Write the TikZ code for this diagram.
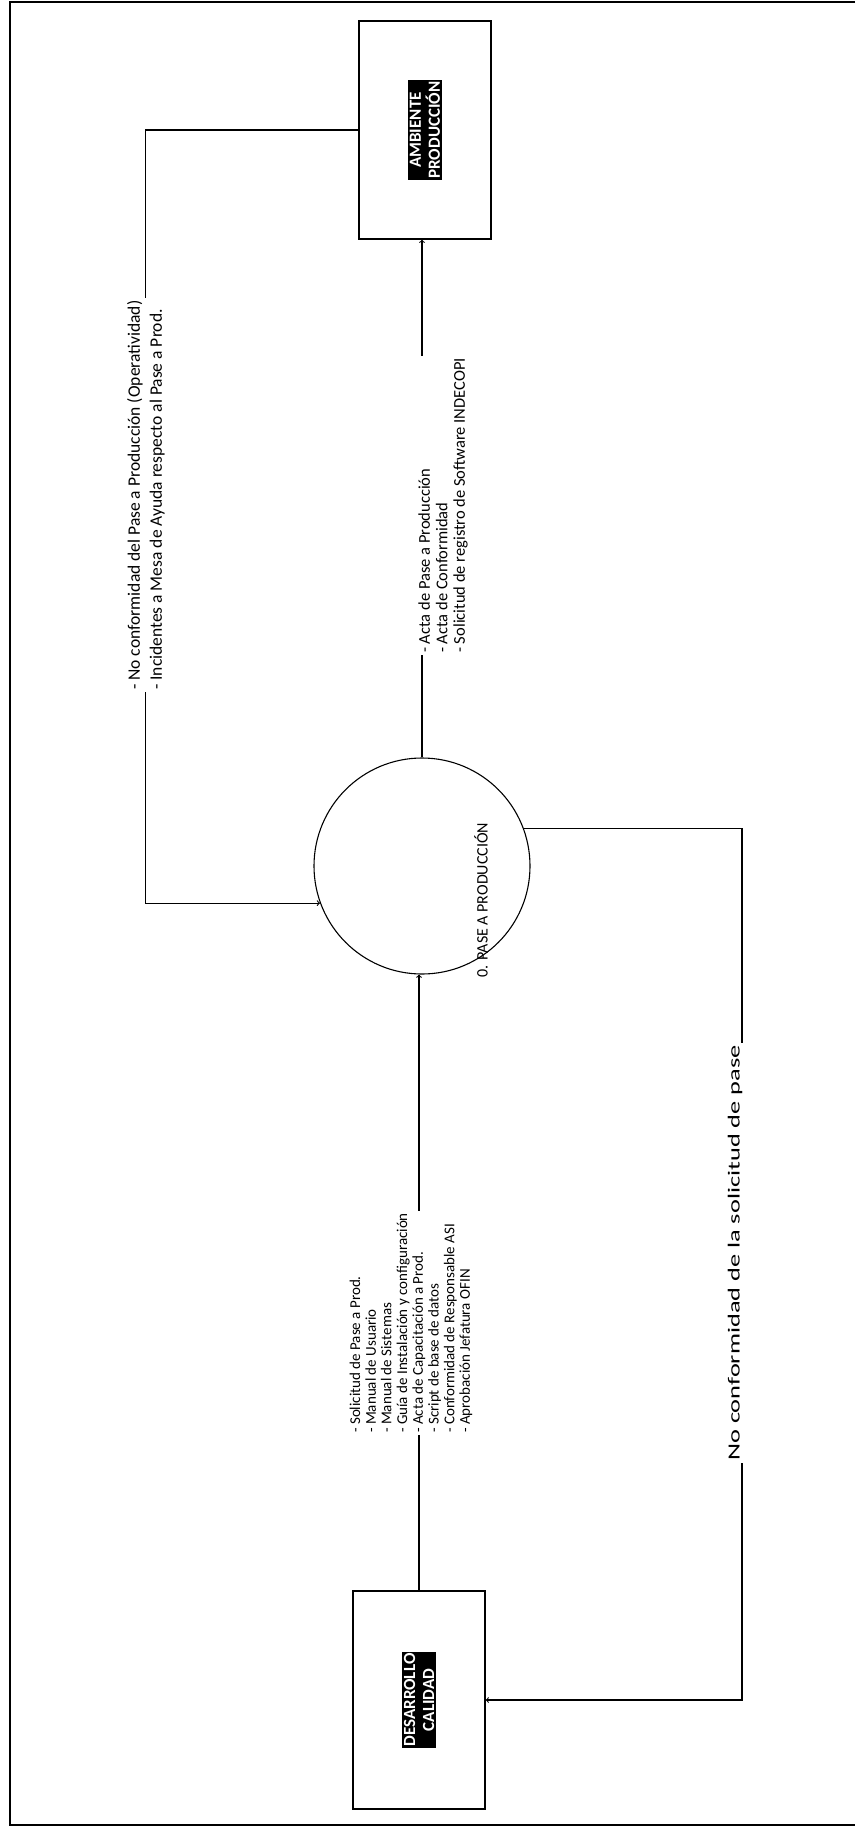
\documentclass[tikz,border=0pt]{standalone}
\usepackage{fontspec}
\setmainfont{Carlito}
\usetikzlibrary{positioning, arrows, calc}

\tikzset{
  entity/.style={draw, line width=1.4pt, minimum width=132pt, minimum height=218pt},
  tag/.style={fill=black, text=white, font=\bfseries\fontsize{17}{19}\selectfont, align=center, inner sep=1.5pt, rotate=90},
  process/.style={draw, circle, line width=1.1pt, minimum size=216pt},
  flow/.style={->, line width=1.1pt},
  flowlabel/.style={fill=white, rotate=90, align=left, inner sep=2pt, font=\fontsize{15}{17.5}\selectfont}
}

\begin{document}
\begin{tikzpicture}[x=1pt, y=-1pt, >=to]
  \useasboundingbox (0,0) rectangle (855,1828);
  % marco
  \draw [line width=1.4pt] (855,2) -- (10,2) -- (10,1825) -- (855,1825);

  % entidades y proceso
  \node [entity] (ambiente) at (425,130) {};
  \node [tag] (ambtag) at (ambiente) {AMBIENTE\\PRODUCCIÓN};
  \node [entity] (desarrollo) at (419,1700) {};
  \node [tag] (destag) at (desarrollo) {DESARROLLO\\CALIDAD};
  \node [process] (pase) at (422,866) {};
  \node [rotate=90, font=\fontsize{16}{19}\selectfont] (pasetxt) at (481,900) {0. PASE A PRODUCCIÓN};

  % flujos
  \draw [flow] (ambiente.west) -- ++(-213,0) |- (pase.200);
  \draw [flow] (pase.north) -- (pase.north |- ambiente.south);
  \draw [flow] (desarrollo.north) -- (desarrollo.north |- pase.south);
  \draw [flow] (pase.20) -- ++(218,0) |- (desarrollo.east);

  % etiquetas
  \node [flowlabel, anchor=west, font=\fontsize{17.5}{22}\selectfont] (lblincid) at (146,692)
    {- No conformidad del Pase a Producción (Operatividad)\\- Incidentes a Mesa de Ayuda respecto al Pase a Prod.};
  \node [flowlabel, anchor=west, font=\fontsize{16.5}{17.5}\selectfont] (lblacta) at (443,655)
    {- Acta de Pase a Producción\\- Acta de Conformidad\\- Solicitud de registro de Software INDECOPI};
  \node [flowlabel, anchor=west, font=\fontsize{15}{15.7}\selectfont] (lbldocs) at (411,1435)
    {- Solicitud de Pase a Prod.\\- Manual de Usuario\\- Manual de Sistemas\\- Guía de Instalación y configuración\\- Acta de Capacitación a Prod.\\- Script de base de datos\\- Conformidad de Responsable ASI\\- Aprobación Jefatura OFIN};
  \node [flowlabel, anchor=west, font=\fontsize{17}{19}\selectfont] (lblrech) at (735,1463)
    {\scalebox{1.55}[1]{No conformidad de la solicitud de pase}};
\end{tikzpicture}
\end{document}
